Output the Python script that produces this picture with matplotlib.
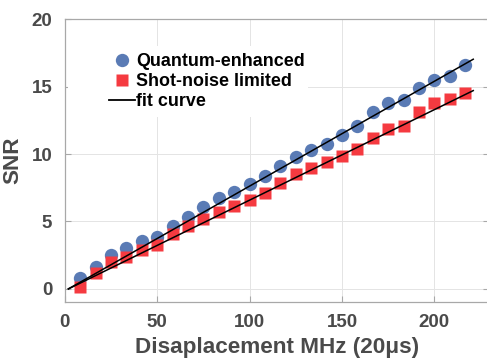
import numpy as np
import matplotlib
matplotlib.use("Agg")
import matplotlib.pyplot as plt
from matplotlib.patches import Rectangle

# ---- data ----
displacement = [8.33, 16.67, 25.0, 33.33, 41.67, 50.0, 58.33, 66.67, 75.0, 83.33,
                91.67, 100.0, 108.33, 116.67, 125.0, 133.33, 141.67, 150.0, 158.33,
                166.67, 175.0, 183.33, 191.67, 200.0, 208.33, 216.67]
snr_quantum = [0.84, 1.60, 2.50, 3.06, 3.56, 3.83, 4.70, 5.34, 6.10, 6.78,
               7.20, 7.77, 8.41, 9.15, 9.82, 10.31, 10.76, 11.42, 12.11,
               13.13, 13.77, 14.02, 14.89, 15.50, 15.80, 16.60]
snr_shot = [0.17, 1.16, 2.00, 2.40, 2.90, 3.26, 4.08, 4.70, 5.17, 5.69,
            6.16, 6.60, 7.10, 7.89, 8.51, 9.00, 9.44, 9.89, 10.39,
            11.20, 11.85, 12.11, 13.15, 13.78, 14.10, 14.56]
fit_x_range = [2.0, 221.0]
fit_quantum = (0.0778, -0.156)   # slope, intercept
fit_shot = (0.06717, -0.134)
x_ticks = [0, 50, 100, 150, 200]
y_ticks = [0, 5, 10, 15, 20]
labels = ["Quantum-enhanced", "Shot-noise limited", "fit curve"]

plt.rcParams['font.family'] = ['Liberation Sans', 'DejaVu Sans']
plt.rcParams['font.weight'] = 'bold'

fig = plt.figure(figsize=(4.87, 3.6), dpi=100)
ax = fig.add_axes([64.7 / 487, 1 - 301.7 / 360, (487 - 64.7) / 487 + 0.004, (301.7 - 19.3) / 360])

blue = '#5a7bb5'
red = '#f53a40'
gray = '#4a4a4a'

fx = np.linspace(fit_x_range[0], fit_x_range[1], 50)
ax.plot(fx, fit_quantum[0] * fx + fit_quantum[1], color='black', lw=1.1, zorder=4)
ax.plot(fx, fit_shot[0] * fx + fit_shot[1], color='black', lw=1.1, zorder=4)
ax.plot(displacement, snr_quantum, 'o', color=blue, ms=9.6, mec='none', zorder=3)
ax.plot(displacement, snr_shot, 's', color=red, ms=8, mec='none', zorder=3)

ax.set_xlim(0, 229.5)
ax.set_ylim(-0.95, 20)
ax.set_xticks(x_ticks)
ax.set_yticks(y_ticks)
ax.grid(True, color='#e4e4e4', lw=0.7, zorder=0)
ax.set_axisbelow(True)
for s in ax.spines.values():
    s.set_color('#a8a8a8')
    s.set_linewidth(0.9)
ax.tick_params(direction='in', length=4, width=0.8, color='#a8a8a8',
               labelsize=13.5, labelcolor=gray, top=False, right=True, pad=9)
for lab in ax.get_xticklabels() + ax.get_yticklabels():
    lab.set_fontweight('bold')

ax.set_xlabel("Disaplacement MHz (20\u03bcs)", fontsize=16.2, fontweight='bold', color=gray, labelpad=4)
ax.set_ylabel("SNR", fontsize=16.2, fontweight='bold', color=gray, labelpad=6)

# white legend background
ax.add_patch(Rectangle((0.008, 0.655), 0.566, 0.25, transform=ax.transAxes,
                       facecolor='white', edgecolor='none', zorder=1))

h1, = ax.plot([], [], 'o', color=blue, ms=9.6, mec='none')
h2, = ax.plot([], [], 's', color=red, ms=8, mec='none')
h3, = ax.plot([], [], '-', color='black', lw=1.3)
leg = ax.legend([h1, h2, h3], labels, loc='upper left', frameon=False,
                bbox_to_anchor=((111 - 64.7) / 423.7 - 0.004, 1 - (53 - 19.3) / 282.4),
                borderaxespad=0, borderpad=0, handlelength=1.45, handletextpad=0.05,
                labelspacing=0.17, prop={'size': 12.9, 'weight': 'bold'})

fig.savefig("out.png", dpi=100)
